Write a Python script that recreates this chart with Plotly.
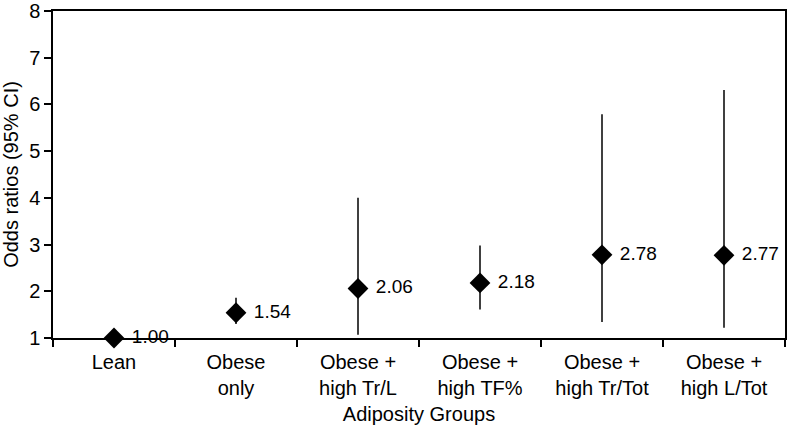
import plotly.graph_objects as go

groups = ['Lean', 'Obese<br>only', 'Obese +<br>high Tr/L', 'Obese +<br>high TF%',
          'Obese +<br>high Tr/Tot', 'Obese +<br>high L/Tot']
odds = [1.00, 1.54, 2.06, 2.18, 2.78, 2.77]
ci_low = [1.00, 1.30, 1.07, 1.61, 1.34, 1.22]
ci_high = [1.00, 1.86, 4.00, 2.98, 5.79, 6.31]
labels = [f'{v:.2f}' for v in odds]

FONT = 'Liberation Sans, Arial, sans-serif'

err_plus = [h - o for h, o in zip(ci_high, odds)]
err_minus = [o - l for o, l in zip(odds, ci_low)]

fig = go.Figure(go.Scatter(
    x=groups,
    y=odds,
    mode='markers+text',
    text=[' \u200a' + t for t in labels],
    textposition='middle right',
    textfont=dict(family=FONT, size=19, color='black'),
    marker=dict(symbol='diamond', size=16, color='black'),
    error_y=dict(type='data', symmetric=False, array=err_plus, arrayminus=err_minus,
                 width=0, thickness=1.5, color='black'),
    cliponaxis=False,
    showlegend=False,
))

fig.update_layout(
    width=787, height=425,
    margin=dict(l=53, r=2, t=11, b=87),
    plot_bgcolor='white',
    paper_bgcolor='white',
    font=dict(family=FONT, size=19, color='black'),
    xaxis=dict(
        type='category',
        range=[-0.5, 5.5],
        tickson='boundaries',
        ticks='outside', ticklen=7, tickwidth=1.5, tickcolor='black',
        tickfont=dict(size=20), ticklabelstandoff=5,
        showline=True, linecolor='black', linewidth=1.5, mirror=True,
        showgrid=False, automargin=False,
        title=dict(text='Adiposity Groups', standoff=12, font=dict(size=20)),
    ),
    yaxis=dict(
        range=[1, 8], dtick=1,
        ticks='outside', ticklen=7, tickwidth=1.5, tickcolor='black',
        tickfont=dict(size=20),
        showline=True, linecolor='black', linewidth=1.5, mirror=True,
        showgrid=False, zeroline=False, automargin=False,
        title=dict(text='Odds ratios (95% CI)', standoff=8, font=dict(size=20)),
    ),
)

# drop the default 8px body margin so the figure fills the window
fig.write_html('out.html', config={'displayModeBar': False},
               post_script="document.body.style.margin='0';")
